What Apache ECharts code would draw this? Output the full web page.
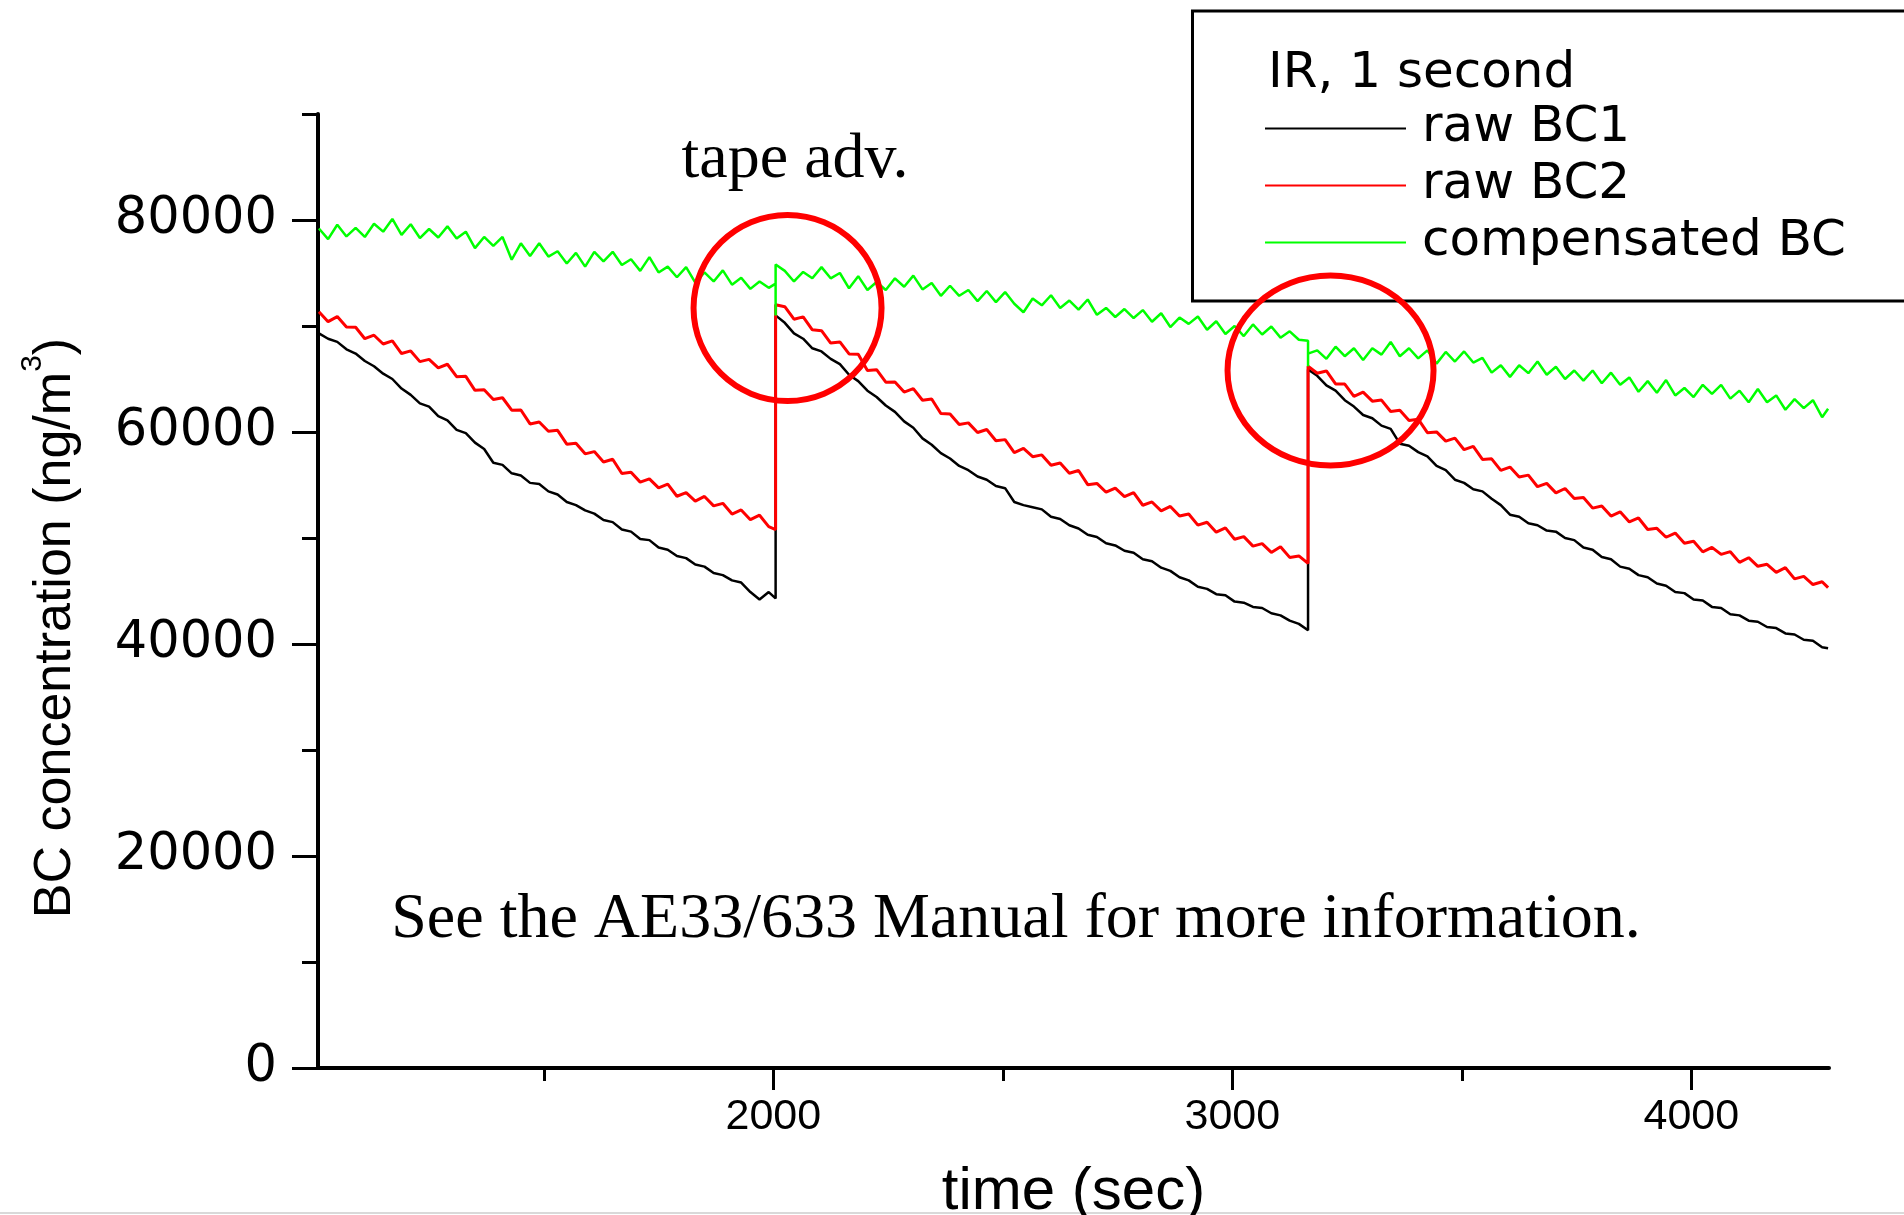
<!DOCTYPE html>
<html>
<head>
<meta charset="utf-8">
<script src="https://cdn.jsdelivr.net/npm/echarts@6/dist/echarts.min.js"></script>
<style>
html,body{margin:0;padding:0;background:#fff;}
#main{width:1904px;height:1215px;}
</style>
</head>
<body>
<div id="main"></div>
<script>
// ---------------- DATA ----------------
// sample times (sec); tape advances happen at 2005 s and 3165 s (repeated time = jump)
const times = [
  1010,1030,1050,1070,1090,1110,1130,1150,1170,1190,
  1210,1230,1250,1270,1290,1310,1330,1350,1370,1390,
  1410,1430,1450,1470,1490,1510,1530,1550,1570,1590,
  1610,1630,1650,1670,1690,1710,1730,1750,1770,1790,
  1810,1830,1850,1870,1890,1910,1930,1950,1970,1990,
  2005,2005,2005,
  2025,2045,2065,2085,2105,2125,2145,2165,2185,2205,
  2225,2245,2265,2285,2305,2325,2345,2365,2385,2405,
  2425,2445,2465,2485,2505,2525,2545,2565,2585,2605,
  2625,2645,2665,2685,2705,2725,2745,2765,2785,2805,
  2825,2845,2865,2885,2905,2925,2945,2965,2985,3005,
  3025,3045,3065,3085,3105,3125,3145,
  3165,3165,3165,
  3185,3205,3225,3245,3265,3285,3305,3325,3345,3365,
  3385,3405,3425,3445,3465,3485,3505,3525,3545,3565,
  3585,3605,3625,3645,3665,3685,3705,3725,3745,3765,
  3785,3805,3825,3845,3865,3885,3905,3925,3945,3965,
  3985,4005,4025,4045,4065,4085,4105,4125,4145,4165,
  4185,4205,4225,4245,4265,4285,4298
];

const rawBC1 = [
  69300,68800,68500,67800,67400,66700,66200,65500,65000,64100,
  63500,62700,62400,61500,61100,60200,59900,59000,58400,57100,
  56900,56100,55900,55200,55100,54400,54100,53400,53100,52600,
  52300,51700,51500,50800,50600,49900,49800,49100,48900,48300,
  48100,47500,47300,46700,46500,46000,45800,44900,44200,44900,
  44300,71000,71000,
  70300,69300,68800,67900,67600,66900,66400,65400,64800,63900,
  63300,62500,61900,61000,60400,59400,58800,58000,57500,56800,
  56400,55800,55500,54900,54700,53400,53100,52900,52700,52000,
  51800,51200,50900,50300,50100,49500,49300,48800,48600,48000,
  47800,47200,46900,46300,46000,45400,45200,44700,44600,44000,
  43900,43500,43400,42900,42700,42200,41900,
  41300,65900,65900,
  65300,64400,63900,63000,62400,61600,61300,60600,60300,58900,
  58700,58100,57700,56800,56400,55500,55200,54600,54400,53700,
  53100,52200,52000,51400,51200,50700,50600,50000,49800,49100,
  48900,48200,48000,47300,47100,46500,46300,45700,45500,44900,
  44800,44200,44100,43500,43400,42800,42700,42200,42100,41600,
  41500,41000,40900,40400,40300,39700,39600
];

const rawBC2 = [
  71340,70410,70890,69910,69880,68800,69130,68300,68600,67400,
  67650,66640,66850,66050,66390,65220,65250,63930,63980,63060,
  63230,62060,62080,60760,60940,60070,60160,58850,58940,57940,
  58150,57170,57430,56090,56210,55270,55580,54730,55080,53940,
  54280,53480,53920,53030,53270,52260,52650,51730,52150,51070,
  50800,72000,72000,
  71820,70640,70860,69640,69560,68390,68500,67370,67340,65810,
  65880,64700,64710,63770,64090,63000,63120,61740,61700,60700,
  60860,59950,60240,59180,59280,58060,58450,57670,57840,56860,
  57080,56110,56370,55030,55150,54320,54710,53900,54280,53090,
  53400,52560,52980,52070,52270,51210,51490,50550,50950,49880,
  50130,49230,49470,48640,49180,48170,48310,
  47600,66200,66200,
  65540,65760,64540,64520,63360,63760,62910,63010,61940,62060,
  61090,61210,59940,60010,59140,59420,58330,58650,57410,57470,
  56380,56690,55760,55930,54840,55150,54260,54670,53720,53820,
  52820,53020,52070,52470,51520,51890,50800,50910,50070,50470,
  49510,49700,48690,49120,48460,48710,47700,48140,47330,47520,
  46760,47200,46140,46380,45610,45870,45320
];

const compensatedBC = [
  79200,78200,79550,78450,79250,78400,79650,78900,80100,78600,
  79600,78300,79150,78350,79400,78250,78900,77350,78400,77550,
  78400,76250,77800,76600,77800,76550,77050,75900,76900,75600,
  77000,76100,77000,75750,76300,75200,76500,75050,75600,74600,
  75550,74100,75050,74200,75250,73900,74550,73500,74200,73600,
  74000,71000,75800,
  75200,74200,75100,74500,75550,74500,75000,73550,74700,73400,
  74150,73400,74500,73700,74750,73450,74050,72850,73800,72850,
  73400,72350,73300,72250,73200,72100,71300,72600,71950,72900,
  71700,72400,71550,72500,71050,71700,70850,71600,70750,71500,
  70400,71200,69900,70800,70200,70900,69650,70450,69250,70000,
  69050,70150,69200,69950,68900,69500,68700,
  68600,66200,67400,
  67700,66900,68050,67150,67900,66800,67900,67300,68500,67150,
  67900,66950,67700,66450,67550,66650,67600,66550,67000,65600,
  66300,65200,66300,65550,66650,65400,66150,65000,65800,64850,
  65800,64600,65600,64450,65150,63800,64800,63700,64900,63450,
  64150,63300,64450,63600,64450,63150,63900,62800,64050,62800,
  63450,62100,63100,62250,63000,61400,62200
];

const seriesNames = ['raw BC1', 'raw BC2', 'compensated BC'];
const seriesColors = ['#000000', '#ff0000', '#00ff00'];
const seriesWidths = [2.5, 3, 2.5];
const xMajorTicks = [2000, 3000, 4000];
const xMinorTicks = [1500, 2500, 3500];
const yMajorTicks = [0, 20000, 40000, 60000, 80000];
const yMinorTicks = [10000, 30000, 50000, 70000, 90000];
const legendTitle = 'IR, 1 second';
const xName = 'time (sec)';
const yName = '{a|BC concentration (ng/m}{s|3}{a|)}';
const tapeLabel = 'tape adv.';
const noteLabel = 'See the AE33/633 Manual for more information.';
// circled tape-advance events, in data units [time, concentration]
const tapeAdvanceMarks = [[2031, 71700], [3214, 65800]];

// ---------------- CHART ----------------
const pair = arr => times.map((t, i) => [t, arr[i]]);
const allValues = [rawBC1, rawBC2, compensatedBC];

const chart = echarts.init(document.getElementById('main'), null, {renderer: 'canvas'});
const AX = '#000';
const option = {
  animation: false,
  backgroundColor: '#ffffff',
  grid: {left: 318, top: 114, right: 75, bottom: 147, containLabel: false, outerBoundsMode: 'none'},
  xAxis: [
    {
      type: 'value', min: 1008, max: 4300,
      axisLine: {show: true, onZero: false, lineStyle: {color: AX, width: 4}},
      axisTick: {show: true, customValues: xMajorTicks, length: 22, lineStyle: {color: AX, width: 3}},
      axisLabel: {show: true, customValues: xMajorTicks, margin: 28, formatter: v => String(v),
                  fontFamily: 'Liberation Sans', fontSize: 43, lineHeight: 43, color: '#000'},
      splitLine: {show: false},
      name: xName, nameLocation: 'middle', nameGap: 94,
      nameTextStyle: {fontFamily: 'Liberation Sans', fontSize: 60, lineHeight: 60, color: '#000'}
    },
    {
      type: 'value', min: 1008, max: 4300, position: 'bottom',
      axisLine: {show: false},
      axisTick: {show: true, customValues: xMinorTicks, length: 13, lineStyle: {color: AX, width: 3}},
      axisLabel: {show: false},
      splitLine: {show: false}
    }
  ],
  yAxis: [
    {
      type: 'value', min: 0, max: 90000,
      axisLine: {show: true, onZero: false, lineStyle: {color: AX, width: 4}},
      axisTick: {show: true, customValues: yMajorTicks, length: 26, lineStyle: {color: AX, width: 3}},
      axisLabel: {show: true, customValues: yMajorTicks, margin: 41, formatter: v => String(v),
                  fontFamily: 'DejaVu Sans', fontSize: 51, color: '#000'},
      splitLine: {show: false},
      name: yName, nameLocation: 'middle', nameRotate: 90, nameGap: 224,
      nameTextStyle: {
        padding: [0, 74, 0, 0],
        rich: {
          a: {fontFamily: 'Liberation Sans', fontSize: 52, lineHeight: 76, color: '#000'},
          s: {fontFamily: 'Liberation Sans', fontSize: 30, lineHeight: 32, verticalAlign: 'top', color: '#000'}
        }
      }
    },
    {
      type: 'value', min: 0, max: 90000, position: 'left', offset: 0,
      axisLine: {show: false},
      axisTick: {show: true, customValues: yMinorTicks, length: 16, lineStyle: {color: AX, width: 3}},
      axisLabel: {show: false},
      splitLine: {show: false}
    }
  ],
  legend: {
    data: seriesNames, orient: 'vertical', left: 1265, top: 103.5, padding: 0,
    itemWidth: 141, itemHeight: 2, itemGap: 7, icon: 'rect', selectedMode: false,
    textStyle: {fontFamily: 'DejaVu Sans', fontSize: 50, lineHeight: 50, color: '#000', padding: [0, 0, 0, 11]}
  },
  series: seriesNames.map((name, k) => ({
    name: name, type: 'line', xAxisIndex: 0, yAxisIndex: 0,
    data: pair(allValues[k]),
    showSymbol: false, symbol: 'none', silent: true,
    lineStyle: {color: seriesColors[k], width: seriesWidths[k]},
    itemStyle: {color: seriesColors[k]},
    z: 2 + k
  }))
};
chart.setOption(option);

const ellipseSizes = [[94, 93], [103, 95]];
const circles = tapeAdvanceMarks.map((m, i) => {
  const p = chart.convertToPixel({xAxisIndex: 0, yAxisIndex: 0}, m);
  return {
    type: 'ellipse', z: 100,
    shape: {cx: p[0], cy: p[1], rx: ellipseSizes[i][0], ry: ellipseSizes[i][1]},
    style: {fill: 'none', stroke: '#ff0000', lineWidth: 6}
  };
});

chart.setOption({
  graphic: [
    {type: 'rect', z: 0, shape: {x: 1192.5, y: 11, width: 760, height: 290},
     style: {fill: '#ffffff', stroke: '#000', lineWidth: 3}},
    {type: 'text', z: 5, x: 1268, y: 74,
     style: {text: legendTitle, fontFamily: 'DejaVu Sans', fontSize: 50, fill: '#000', align: 'left', verticalAlign: 'middle'}},
    {type: 'text', z: 5, x: 795, y: 160,
     style: {text: tapeLabel, fontFamily: 'Liberation Serif', fontSize: 64, fill: '#000', align: 'center', verticalAlign: 'middle'}},
    {type: 'text', z: 5, x: 1016, y: 920,
     style: {text: noteLabel, fontFamily: 'Liberation Serif', fontSize: 64, fill: '#000', align: 'center', verticalAlign: 'middle'}},
    {type: 'line', z: 0, shape: {x1: 0, y1: 1213, x2: 1904, y2: 1213},
     style: {stroke: '#d9d9d9', lineWidth: 2}}
  ].concat(circles)
});
</script>
</body>
</html>
